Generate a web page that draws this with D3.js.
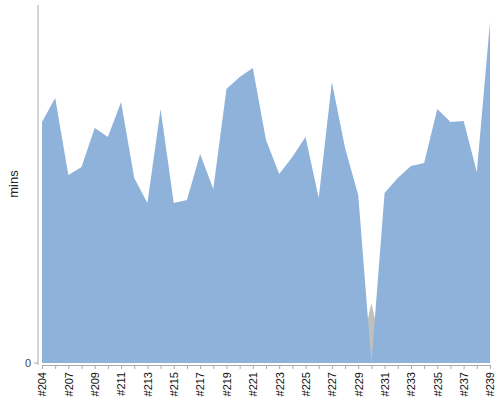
<!DOCTYPE html>
<html>
<head>
<meta charset="utf-8">
<script src="https://cdn.jsdelivr.net/npm/d3@7"></script>
<style>
  body { margin: 0; background: #fff; }
  text { font-family: "Liberation Sans", Arial, sans-serif; }
</style>
</head>
<body>
<svg id="chart" width="500" height="400"></svg>
<script>
const builds = ['#204', '#205'];
for (let n = 207; n <= 239; n++) builds.push('#' + n);

// minutes per build (blue) and the grey series around #230
const mins = [241, 265, 188, 196, 235, 226, 261, 185, 160, 254, 160, 163, 209, 174, 274, 286, 295, 223,
  189, 206, 226, 165, 281, 215, 168, 0, 170, 185, 197, 200, 254, 241, 242, 191, 341];
const other = builds.map(b => (b === '#230' ? 60 : 0));

const margin = { top: 5, right: 10, bottom: 37, left: 42 };
const width = 500, height = 400;

const svg = d3.select('#chart');

const x = d3.scalePoint().domain(builds).range([margin.left, width - margin.right]);
const y = d3.scaleLinear().domain([0, 358]).range([height - margin.bottom, margin.top]);

const area = vals => d3.area()
  .x((d, i) => x(builds[i]))
  .y0(y(0))
  .y1(d => y(d))(vals);

svg.append('path').attr('d', area(other)).attr('fill', '#c0c0c0');
svg.append('path').attr('d', area(mins)).attr('fill', '#8fb2db');

// y axis
svg.append('line')
  .attr('x1', 38).attr('x2', 38)
  .attr('y1', margin.top).attr('y2', y(0) + 2)
  .attr('stroke', '#aaa');
svg.append('line')
  .attr('x1', 34).attr('x2', 38)
  .attr('y1', y(0)).attr('y2', y(0))
  .attr('stroke', '#aaa');
svg.append('text')
  .attr('x', 31).attr('y', y(0) + 4)
  .attr('text-anchor', 'end')
  .attr('font-size', 11).attr('fill', '#444')
  .text('0');
svg.append('text')
  .attr('transform', `translate(18, ${(margin.top + y(0)) / 2}) rotate(-90)`)
  .attr('text-anchor', 'middle')
  .attr('font-size', 13).attr('fill', '#222')
  .text('mins');

// x axis
const xAxis = svg.append('g')
  .attr('transform', `translate(0, ${y(0) + 2})`)
  .call(d3.axisBottom(x).tickSize(4).tickSizeOuter(0)
    .tickFormat((d, i) => (i === 0 || i % 2 === 0 ? d : '')));
xAxis.select('.domain').attr('stroke', '#aaa');
xAxis.selectAll('.tick line').attr('stroke', '#aaa');
xAxis.selectAll('.tick text')
  .attr('transform', 'rotate(-90)')
  .attr('x', -7).attr('y', 0).attr('dy', '0.35em')
  .attr('text-anchor', 'end')
  .attr('font-size', 11).attr('fill', '#111')
  .attr('font-family', '"Liberation Sans", Arial, sans-serif');
</script>
</body>
</html>
